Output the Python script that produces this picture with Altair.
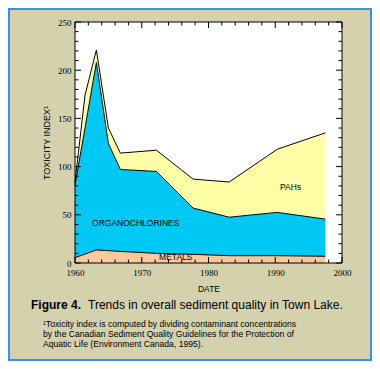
import altair as alt
import pandas as pd

# ---- data ----
years = [1960, 1961.5, 1963.2, 1965.0, 1966.8, 1972.2, 1977.7, 1983.1, 1990.3, 1997.5]
metals = [5.5, 9.3, 13.5, 12.8, 12.0, 10.0, 9.0, 7.6, 7.6, 7.0]
organochlorines = [75.5, 130.7, 194.5, 111.2, 85.0, 85.0, 48.0, 39.9, 44.9, 38.5]
pahs = [3.0, 34.0, 13.0, 16.0, 17.0, 22.0, 30.0, 36.5, 65.5, 89.5]

series = ["METALS", "ORGANOCHLORINES", "PAHs"]
colors = ["#fbc89c", "#00c8f5", "#ffffa8"]

y_major = [0, 50, 100, 150, 200, 250]
y_minor = [v for v in range(0, 251, 10) if v % 50 != 0]
x_major = [1960, 1970, 1980, 1990, 2000]
x_minor = [v for v in range(1960, 2001, 2) if v % 10 != 0]

label_text = ["ORGANOCHLORINES", "METALS", "PAHs"]
label_year = [1969.1, 1975.1, 1992.3]
label_value = [41.8, 5.9, 79.1]

x_title = "DATE"
y_title = "TOXICITY INDEX\u00b9"
caption_bold = "Figure 4."
caption_rest = "Trends in overall sediment quality in Town Lake."
footnote_lines = [
    "\u00b9Toxicity index is computed by dividing contaminant concentrations",
    "by the Canadian Sediment Quality Guidelines for the Protection of",
    "Aquatic Life (Environment Canada, 1995).",
]

# ---- build table: stack the three series (bottom / top of each band) ----
rows = []
base = [0.0] * len(years)
for k, (name, vals) in enumerate(zip(series, [metals, organochlorines, pahs])):
    for i, (yr, v) in enumerate(zip(years, vals)):
        rows.append({"year": yr, "series": name, "bottom": base[i], "top": base[i] + v, "k": k})
    base = [b + v for b, v in zip(base, vals)]
df = pd.DataFrame(rows)

W, H = 267, 241
xscale = alt.Scale(domain=[1960, 2000], nice=False, zero=False, padding=0)
yscale = alt.Scale(domain=[0, 250], nice=False, zero=False, padding=0)
SANS = "Liberation Sans"
SERIF = "Liberation Serif"

x_axis = alt.Axis(values=x_major, format="d", ticks=False, domain=False, grid=False,
                  labelFlush=False, labelOverlap=False,
                  labelFont=SERIF, labelFontSize=9, labelColor="black", labelPadding=5,
                  title=x_title, titleFont=SANS, titleFontSize=8.5,
                  titleFontWeight="normal", titleColor="black", titlePadding=7, zindex=1)
y_axis = alt.Axis(values=y_major, ticks=False, domain=False, grid=False,
                  labelFlush=False, labelOverlap=False,
                  labelFont=SERIF, labelFontSize=9, labelColor="black", labelPadding=4,
                  title=y_title, titleFont=SANS, titleFontSize=9,
                  titleFontWeight="normal", titleColor="black", titlePadding=6, zindex=1)


def X(field):
    return alt.X(field, scale=xscale, axis=x_axis, title=x_title)


def Y(field):
    return alt.Y(field, scale=yscale, axis=y_axis, title=y_title)


one = pd.DataFrame({"a": [0]})

border = alt.Chart(one).mark_rect(fill=None, stroke="#3d8ee8", strokeWidth=2).encode(
    x=alt.value(-66), x2=alt.value(W + 29), y=alt.value(-13), y2=alt.value(H + 97)
)

areas = alt.Chart(df).mark_area(opacity=1, interpolate="linear").encode(
    x=X("year:Q"),
    y=Y("top:Q"),
    y2="bottom:Q",
    color=alt.Color("series:N", scale=alt.Scale(domain=series, range=colors), legend=None),
    detail="series:N",
)

lines = alt.Chart(df).mark_line(color="black", strokeWidth=1, interpolate="linear").encode(
    x=X("year:Q"),
    y=Y("top:Q"),
    detail="series:N",
    order="year:Q",
)


def yticks(vals, x0, x1):
    return alt.Chart(pd.DataFrame({"v": vals})).mark_rule(color="black", strokeWidth=1).encode(
        y=Y("v:Q"), x=alt.value(x0), x2=alt.value(x1)
    )


def xticks(vals, y0, y1):
    return alt.Chart(pd.DataFrame({"v": vals})).mark_rule(color="black", strokeWidth=1).encode(
        x=X("v:Q"), y=alt.value(y0), y2=alt.value(y1)
    )


ticks = [
    yticks(y_major, 0, 6), yticks(y_minor, 0, 3.5),
    yticks(y_major, W, W - 6), yticks(y_minor, W, W - 3.5),
    xticks(x_major, H, H - 6), xticks(x_minor, H, H - 3.5),
    xticks(x_major, 0, 6), xticks(x_minor, 0, 3.5),
]

frame = alt.Chart(one).mark_rect(fill=None, stroke="black", strokeWidth=1).encode(
    x=alt.value(0), x2=alt.value(W), y=alt.value(0), y2=alt.value(H)
)

labels = alt.Chart(pd.DataFrame({"t": label_text, "yr": label_year, "v": label_value})).mark_text(
    font=SANS, fontSize=8.5, color="black", align="center", baseline="middle"
).encode(
    x=X("yr:Q"),
    y=Y("v:Q"),
    text="t:N",
)

cap1 = alt.Chart(pd.DataFrame({"t": [caption_bold]})).mark_text(
    font=SANS, fontSize=12, fontWeight="bold", color="black", align="left", baseline="middle"
).encode(x=alt.value(-44), y=alt.value(283), text="t:N")

cap2 = alt.Chart(pd.DataFrame({"t": [caption_rest]})).mark_text(
    font=SANS, fontSize=12, color="black", align="left", baseline="middle"
).encode(x=alt.value(13), y=alt.value(283), text="t:N")

foot = alt.Chart(pd.DataFrame({"t": ["\n".join(footnote_lines)]})).mark_text(
    font=SANS, fontSize=8.6, color="black", align="left", baseline="middle",
    lineBreak="\n", lineHeight=10
).encode(x=alt.value(-32), y=alt.value(301.5), text="t:N")

chart = alt.layer(border, areas, lines, *ticks, frame, labels, cap1, cap2, foot).properties(
    width=W, height=H,
    padding={"left": 67, "top": 14, "right": 30, "bottom": 98},
    autosize=alt.AutoSizeParams(type="none"),
    background="#d4d1ad",
).configure_view(stroke=None, fill="white")

chart.save("out.html", embed_options={"renderer": "svg", "actions": False})
